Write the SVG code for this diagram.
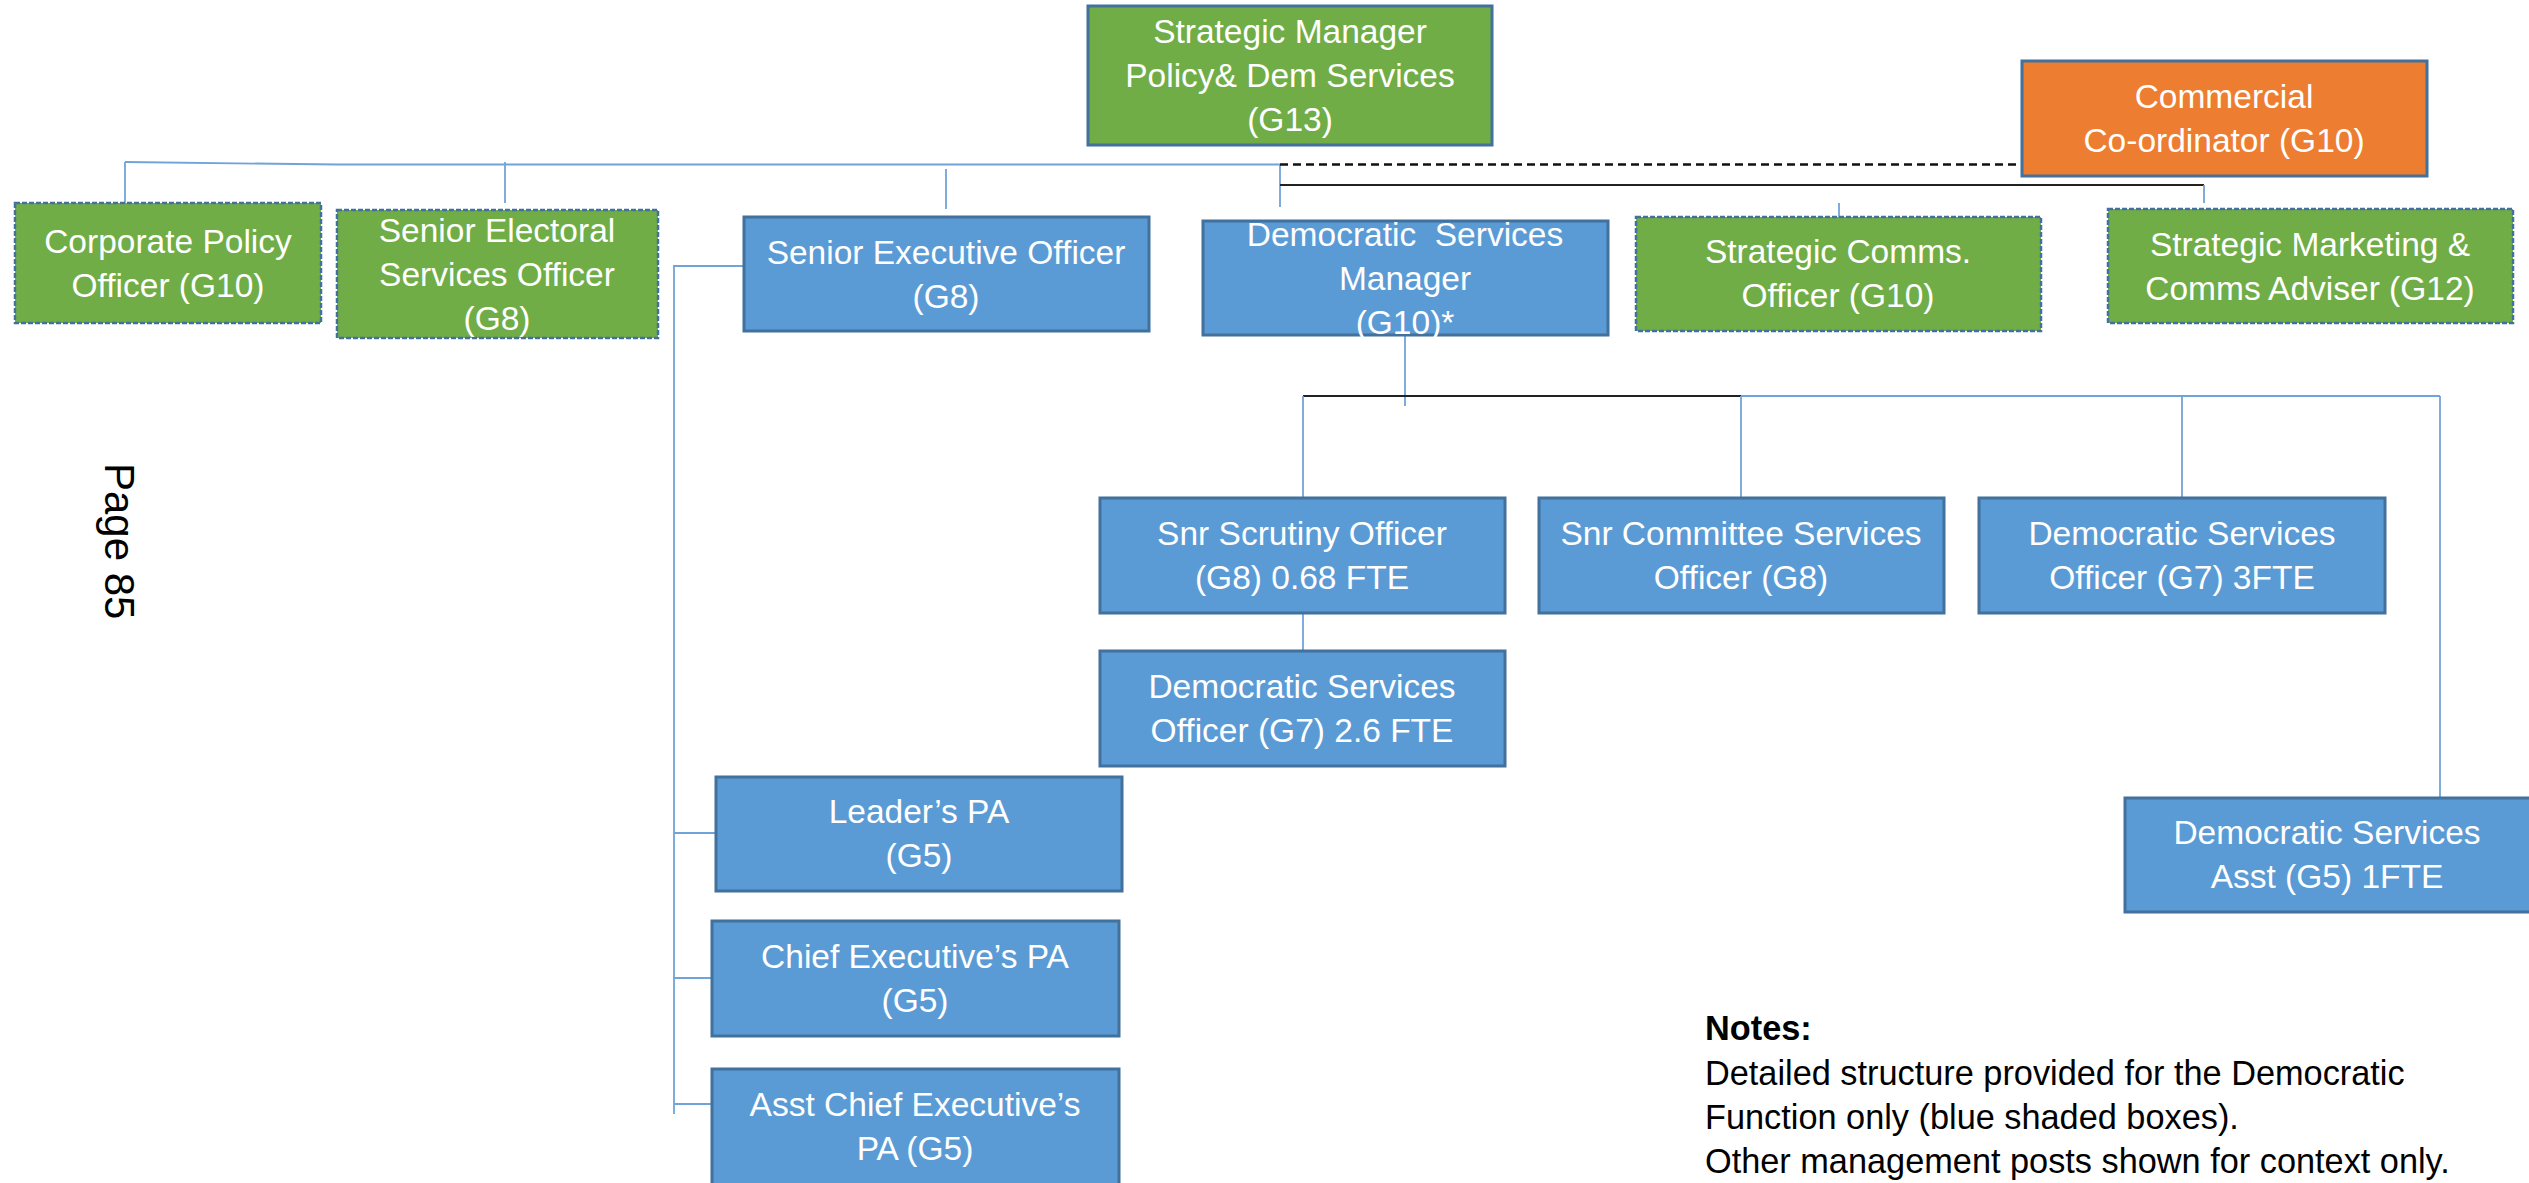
<svg xmlns="http://www.w3.org/2000/svg" width="2529" height="1183" viewBox="0 0 2529 1183">
<style>
.box{stroke:#41719C;stroke-width:3}
.green{fill:#70AD47}
.blue{fill:#5B9BD5}
.orange{fill:#ED7D31}
.dash{stroke:#41719C;stroke-width:2.5;stroke-dasharray:5 2}
.t{font-family:"Liberation Sans",Arial,sans-serif;font-size:33.5px;fill:#ffffff;text-anchor:middle}
.c{fill:none;stroke:#6FA3DA;stroke-width:1.8}
.k{fill:none;stroke:#222222;stroke-width:2}
.kd{fill:none;stroke:#111111;stroke-width:2.5;stroke-dasharray:8 5}
.note{font-family:"Liberation Sans",Arial,sans-serif;font-size:34.3px;fill:#000000}
.page{font-family:"Liberation Sans",Arial,sans-serif;font-size:42px;fill:#000000}
</style>
<rect width="2529" height="1183" fill="#ffffff"/>
<g id="connectors">
<polyline class="c" points="125,162 337,164.5 1280,164.5"/>
<line class="c" x1="125" y1="162" x2="125" y2="203"/>
<line class="c" x1="505" y1="162" x2="505" y2="203"/>
<line class="c" x1="946" y1="169" x2="946" y2="209"/>
<line class="c" x1="1280" y1="164.5" x2="1280" y2="207"/>
<line class="kd" x1="1280" y1="164.5" x2="2022" y2="164.5"/>
<line class="k" x1="1280" y1="185" x2="2204" y2="185"/>
<line class="c" x1="2204" y1="185" x2="2204" y2="203"/>
<line class="c" x1="1839" y1="203" x2="1839" y2="217"/>
<polyline class="c" points="744,266 674,266 674,1114"/>
<line class="c" x1="674" y1="833" x2="716" y2="833"/>
<line class="c" x1="674" y1="978" x2="712" y2="978"/>
<line class="c" x1="674" y1="1104" x2="712" y2="1104"/>
<line class="c" x1="1405" y1="335" x2="1405" y2="406"/>
<line class="k" x1="1303" y1="396" x2="1741" y2="396"/>
<line class="c" x1="1741" y1="396" x2="2440" y2="396"/>
<line class="c" x1="1303" y1="396" x2="1303" y2="498"/>
<line class="c" x1="1303" y1="613" x2="1303" y2="651"/>
<line class="c" x1="1741" y1="396" x2="1741" y2="498"/>
<line class="c" x1="2182" y1="396" x2="2182" y2="498"/>
<line class="c" x1="2440" y1="396" x2="2440" y2="798"/>
</g>
<g id="strategic-manager">
<rect class="box green" x="1088" y="6" width="404" height="139"/>
<text class="t" x="1290" y="43">Strategic Manager</text>
<text class="t" x="1290" y="87">Policy&amp; Dem Services</text>
<text class="t" x="1290" y="131">(G13)</text>
</g>
<g id="commercial-coordinator">
<rect class="box orange" x="2022" y="61" width="405" height="115"/>
<text class="t" x="2224" y="108">Commercial</text>
<text class="t" x="2224" y="152">Co-ordinator (G10)</text>
</g>
<g id="corporate-policy">
<rect class="dash green" x="15" y="203" width="306" height="120"/>
<text class="t" x="168" y="253">Corporate Policy</text>
<text class="t" x="168" y="297">Officer (G10)</text>
</g>
<g id="senior-electoral">
<rect class="dash green" x="337" y="210" width="321" height="128"/>
<text class="t" x="497" y="242">Senior Electoral</text>
<text class="t" x="497" y="286">Services Officer</text>
<text class="t" x="497" y="330">(G8)</text>
</g>
<g id="senior-executive">
<rect class="box blue" x="744" y="217" width="405" height="114"/>
<text class="t" x="946" y="264">Senior Executive Officer</text>
<text class="t" x="946" y="308">(G8)</text>
</g>
<g id="dem-services-manager">
<rect class="box blue" x="1203" y="221" width="405" height="114"/>
<text class="t" x="1405" y="246" xml:space="preserve">Democratic  Services</text>
<text class="t" x="1405" y="290">Manager</text>
<text class="t" x="1405" y="334">(G10)*</text>
</g>
<g id="strategic-comms">
<rect class="dash green" x="1636" y="217" width="405" height="114"/>
<text class="t" x="1838" y="263">Strategic Comms.</text>
<text class="t" x="1838" y="307">Officer (G10)</text>
</g>
<g id="strategic-marketing">
<rect class="dash green" x="2108" y="209" width="405" height="114"/>
<text class="t" x="2310" y="256">Strategic Marketing &amp;</text>
<text class="t" x="2310" y="300">Comms Adviser (G12)</text>
</g>
<g id="snr-scrutiny">
<rect class="box blue" x="1100" y="498" width="405" height="115"/>
<text class="t" x="1302" y="545">Snr Scrutiny Officer</text>
<text class="t" x="1302" y="589">(G8) 0.68 FTE</text>
</g>
<g id="dso-2-6">
<rect class="box blue" x="1100" y="651" width="405" height="115"/>
<text class="t" x="1302" y="698">Democratic Services</text>
<text class="t" x="1302" y="742">Officer (G7) 2.6 FTE</text>
</g>
<g id="snr-committee">
<rect class="box blue" x="1539" y="498" width="405" height="115"/>
<text class="t" x="1741" y="545">Snr Committee Services</text>
<text class="t" x="1741" y="589">Officer (G8)</text>
</g>
<g id="dso-3">
<rect class="box blue" x="1979" y="498" width="406" height="115"/>
<text class="t" x="2182" y="545">Democratic Services</text>
<text class="t" x="2182" y="589">Officer (G7) 3FTE</text>
</g>
<g id="ds-asst">
<rect class="box blue" x="2125" y="798" width="406" height="114"/>
<text class="t" x="2327" y="844">Democratic Services</text>
<text class="t" x="2327" y="888">Asst (G5) 1FTE</text>
</g>
<g id="leaders-pa">
<rect class="box blue" x="716" y="777" width="406" height="114"/>
<text class="t" x="919" y="823">Leader’s PA</text>
<text class="t" x="919" y="867">(G5)</text>
</g>
<g id="chief-exec-pa">
<rect class="box blue" x="712" y="921" width="407" height="115"/>
<text class="t" x="915" y="968">Chief Executive’s PA</text>
<text class="t" x="915" y="1012">(G5)</text>
</g>
<g id="asst-chief-exec-pa">
<rect class="box blue" x="712" y="1069" width="407" height="116"/>
<text class="t" x="915" y="1116">Asst Chief Executive’s</text>
<text class="t" x="915" y="1160">PA (G5)</text>
</g>
<text class="page" transform="translate(105,463) rotate(90)">Page 85</text>
<g id="notes">
<text class="note" x="1705" y="1040" font-weight="bold">Notes:</text>
<text class="note" x="1705" y="1085">Detailed structure provided for the Democratic</text>
<text class="note" x="1705" y="1129">Function only (blue shaded boxes).</text>
<text class="note" x="1705" y="1173">Other management posts shown for context only.</text>
</g>
</svg>
